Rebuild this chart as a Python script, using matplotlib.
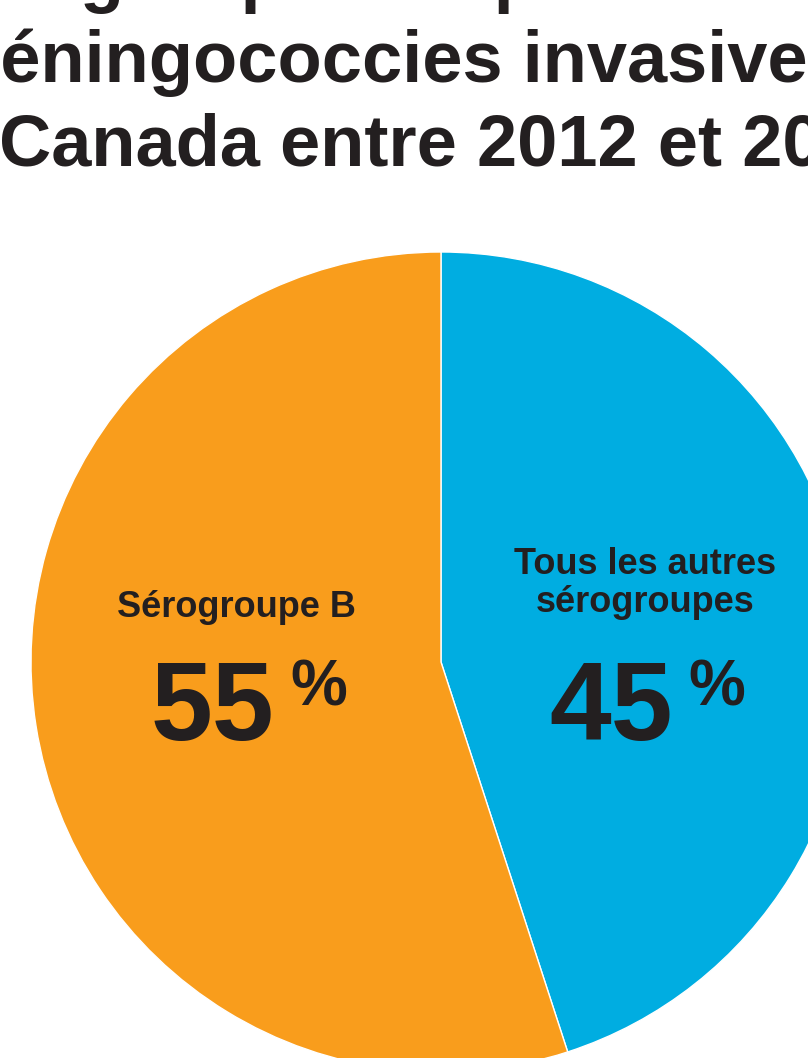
import matplotlib.pyplot as plt

# Données du graphique
categories = ["Tous les autres\nsérogroupes", "Sérogroupe B"]
values = [45, 55]
colors = ["#00ADE1", "#F99D1C"]
value_labels = ["45", "55"]

# Lignes du titre (coupé dans l'image d'origine)
title_lines = [
    "Sérogroupes responsables des",
    "méningococcies invasives",
    "Canada entre 2012 et 2019",
]
# préfixe caché à gauche, position x (px) du reste, ligne de base (px)
title_offsets = [("Séro", 80, -1), ("m", 0, 82), ("", -1, 165)]

TEXT_COLOR = "#231F20"
FONT = "Liberation Sans"

W, H = 808, 1058
fig = plt.figure(figsize=(W / 100, H / 100), dpi=100)
renderer = fig.canvas.get_renderer()

# Titre
for line, (prefix, x_px, base_px) in zip(title_lines, title_offsets):
    shift = 0
    if prefix:
        tmp = fig.text(0, 0, prefix, fontsize=52, fontweight="bold", family=FONT)
        shift = tmp.get_window_extent(renderer).width
        tmp.remove()
    fig.text((x_px - shift) / W, 1 - base_px / H, line, fontsize=52,
             fontweight="bold", family=FONT, color=TEXT_COLOR,
             ha="left", va="baseline")

# Camembert : centre (441, 662), rayon 410 px
cx, cy, r = 441, 662, 410
ax = fig.add_axes([(cx - r) / W, (H - cy - r) / H, 2 * r / W, 2 * r / H])
ax.pie(values, colors=colors, startangle=90, counterclock=False, radius=1,
       wedgeprops={"edgecolor": "white", "linewidth": 1})
ax.set_xlim(-1, 1)
ax.set_ylim(-1, 1)
ax.axis("off")


def px(x, y):
    return (x - cx) / r, (cy - y) / r


# Étiquettes - Sérogroupe B
ax.text(*px(236, 617), categories[1], ha="center", va="baseline", fontsize=26,
        fontweight="bold", family=FONT, color=TEXT_COLOR)
ax.text(*px(212, 740), value_labels[1], ha="center", va="baseline", fontsize=80,
        fontweight="bold", family=FONT, color=TEXT_COLOR)
ax.text(*px(290, 705), "%", ha="left", va="baseline", fontsize=46,
        fontweight="bold", family=FONT, color=TEXT_COLOR)

# Étiquettes - autres sérogroupes
ax.text(*px(645, 612), categories[0], ha="center", va="baseline", fontsize=26,
        fontweight="bold", family=FONT, color=TEXT_COLOR, linespacing=1.1)
ax.text(*px(611, 740), value_labels[0], ha="center", va="baseline", fontsize=80,
        fontweight="bold", family=FONT, color=TEXT_COLOR)
ax.text(*px(688, 705), "%", ha="left", va="baseline", fontsize=46,
        fontweight="bold", family=FONT, color=TEXT_COLOR)

fig.savefig("out.png", dpi=100)
